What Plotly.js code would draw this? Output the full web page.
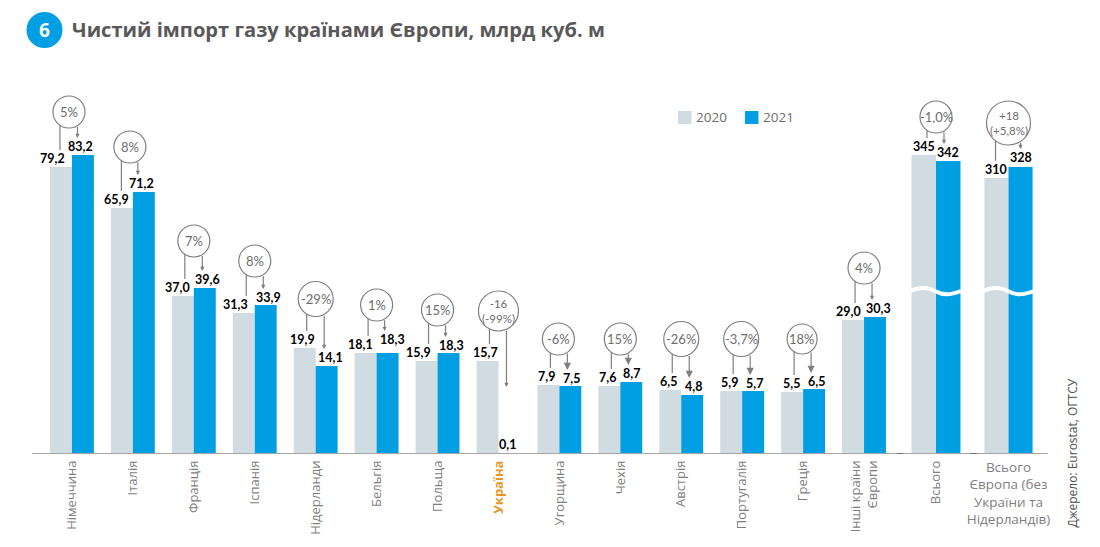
<!DOCTYPE html>
<html><head><meta charset="utf-8">
<script src="https://cdn.plot.ly/plotly-3.0.1.min.js"></script>
<style>html,body{margin:0;padding:0;background:#fff}#c{width:1100px;height:547px}</style>
</head><body><div id="c"></div>
<script>
const countries = ["Німеччина","Італія","Франція","Іспанія","Нідерланди","Бельгія","Польща","Україна","Угорщина","Чехія","Австрія","Португалія","Греція","Інші країни<br>Європи"];
const totalA = "Всього";
const totalB = "Всього<br>Європа (без<br>України та<br>Нідерландів)";
// Printed values (the source chart's bars are not drawn to a common scale with these)
const labels2020 = ["79,2","65,9","37,0","31,3","19,9","18,1","15,9","15,7","7,9","7,6","6,5","5,9","5,5","29,0","345","310"];
const labels2021 = ["83,2","71,2","39,6","33,9","14,1","18,3","18,3","0,1","7,5","8,7","4,8","5,7","6,5","30,3","342","328"];
// Bar heights as actually drawn in the source picture
const height2020 = [287,246,158,141,106,101,93,93,69,68,64,63,62,134,299,276];
const height2021 = [299,262,166,149,88,101,101,0.4,68,72,59,63,65,137,293,287];
const changes = ["5%","8%","7%","8%","-29%","1%","15%","-16<br>(-99%)","-6%","15%","-26%","-3,7%","18%","4%","-1,0%","+18<br>(+5,8%)"];

const GREY="#D0DBE2", BLUE="#009FE3", TXT="#6E6E6E", LINE="#7F7F7F";
const H=547, W=1100, BASE=454, TOP=60;
const px=x=>x/W, py=y=>1-y/H;

// callout layout: bubble height above the baseline, radius, offsets, label shifts
const bubbleY=[342,307,213,193,155,149,144,143,115,115,115,115,115,186,337,331];
const bubbleR=[16,16,16,16,17.5,16,16,20,16,16,17.5,17.5,15,16,16,22];
const bubbleDx=[-3,-3,0,0,0,0,0,0,-1,0,0,-1,-1,0,0,0];
const lineL=[-12,-11.5,-9,-8.5,-9,-8.5,-9,-9,-9,-9,-9,-9,-9,-9,-9,-13];
const lineR=[5.5,5,8.5,8.5,8.5,8,8,8,8,8,8,8,8,8,8,12];
const bigHead=[0,0,0,0,0,0,0,0,1,1,1,1,1,0,0,0];
const shift2020=[-8,-5,-5,-8,-2,-5,-8,-2,-2,-2,-2,-2,-1,-5,0,0];
const shift2021=[-2,-2,3,3,4,5,3,-2,1,0,1,1,2,3,0,0];
const gap2021=[9,9,9,8,9,14,8,9,8,9,9,8,8,9,9,10];

const allCats=[...countries,totalA,totalB];
const axisOf=i=>i<14?"x":(i===14?"x2":"x3");

function mk(name,color,hts,ax,cats,idx,w,off){
  return {type:"bar",name,x:cats,y:idx.map(i=>hts[i]),xaxis:ax,yaxis:"y",width:w,offset:off,
    marker:{color,line:{width:0}},showlegend:false,hoverinfo:"skip"};
}
const idxA=countries.map((_,i)=>i);
const data=[
  mk("2020",GREY,height2020,"x",countries,idxA,0.36,-0.36),
  mk("2021",BLUE,height2021,"x",countries,idxA,0.36,0),
  mk("2020",GREY,height2020,"x2",[totalA],[14],0.34,-0.34),
  mk("2021",BLUE,height2021,"x2",[totalA],[14],0.34,0),
  mk("2020",GREY,height2020,"x3",[totalB],[15],0.33,-0.33),
  mk("2021",BLUE,height2021,"x3",[totalB],[15],0.33,0)
];

const shapes=[], ann=[];
const note=(x,y,text,font,extra)=>ann.push({xref:"paper",yref:"paper",x:px(x),y:py(y),xanchor:"center",yanchor:"middle",text,showarrow:false,font,...extra});
// baseline and the two small dark marks on it
shapes.push({type:"line",xref:"paper",yref:"y",x0:px(32),x1:px(1048),y0:0,y1:0,line:{color:"#A6A6A6",width:2}});
[[897,903],[970,977]].forEach(([a,b])=>shapes.push({type:"line",xref:"paper",yref:"y",x0:px(a),x1:px(b),y0:0,y1:0,line:{color:"#707070",width:2}}));
// header bubble
shapes.push({type:"circle",xref:"paper",yref:"paper",x0:px(26.5),x1:px(62.5),y0:py(48),y1:py(12),fillcolor:BLUE,line:{width:0}});
note(44.5,30,"<b>6</b>",{family:"Open Sans",size:19,color:"#fff"});

allCats.forEach((c,i)=>{
  const ax=axisOf(i), bw=i<14?22:24.5;
  const t20=height2020[i], t21=height2021[i];
  const lab=(txt,y,sh)=>ann.push({xref:ax,yref:"y",x:c,y,xshift:sh,xanchor:"center",yanchor:"middle",text:"<b>"+txt+"</b>",showarrow:false,
    font:{family:"Lato",size:12.5,color:"#000"}});
  lab(labels2020[i],t20+9,shift2020[i]-bw/2);
  lab(labels2021[i],t21+gap2021[i],shift2021[i]+bw/2);
  // bubble
  const r=bubbleR[i], cy=bubbleY[i], dx=bubbleDx[i];
  shapes.push({type:"circle",xref:ax,yref:"y",xsizemode:"pixel",ysizemode:"pixel",xanchor:c,yanchor:cy,
    x0:dx-r,x1:dx+r,y0:-r,y1:r,fillcolor:"#fff",line:{color:LINE,width:1.2}});
  ann.push({xref:ax,yref:"y",x:c,y:cy,xshift:dx,xanchor:"center",yanchor:"middle",text:changes[i],showarrow:false,
    font:{family:"Lato",size:(i===7||i===15)?11.5:13,color:TXT}});
  // connectors
  const dl=lineL[i], dr=lineR[i];
  const edge=d=>cy-Math.sqrt(Math.max(r*r-(d-dx)*(d-dx),0));
  shapes.push({type:"line",xref:ax,yref:"y",xsizemode:"pixel",xanchor:c,x0:dl,x1:dl,y0:edge(dl),y1:t20+17,line:{color:LINE,width:1.2}});
  const end=i===7?67:t21+gap2021[i]+8, yr=edge(dr);
  ann.push({xref:ax,yref:"y",x:c,y:end,xshift:dr,ax:0,ay:-(yr-end),axref:"pixel",ayref:"pixel",text:"",showarrow:true,
    arrowhead:2,arrowsize:bigHead[i]?1.2:0.7,arrowwidth:1.2,arrowcolor:LINE});
});

// axis breaks on the two total groups
[0,73].forEach(d=>{
  const p=(x,y)=>px(x+d)+" "+py(y);
  shapes.push({type:"path",xref:"paper",yref:"paper",
    path:`M ${p(910,291)} C ${p(920,286)} ${p(930,288)} ${p(936,291.5)} S ${p(950,295.5)} ${p(961,291)}`,
    line:{color:"#fff",width:4},fillcolor:"rgba(0,0,0,0)"});
});
// legend
[[678,"2020",GREY,711.5],[745,"2021",BLUE,778]].forEach(([x,t,col,tx])=>{
  shapes.push({type:"rect",xref:"paper",yref:"paper",x0:px(x),x1:px(x+13.5),y0:py(124),y1:py(111),fillcolor:col,line:{width:0}});
  note(tx,117.5,t,{family:"Open Sans",size:13.5,color:"#6E6E6E"});
});
// source
note(1072,453.5,"Джерело: Eurostat, ОГТСУ",{family:"Open Sans",size:12,color:"#505050"},{textangle:-90});

const tick={family:"Open Sans",size:13,color:"#7F7F7F"};
const xbase={type:"category",showline:false,showgrid:false,zeroline:false,ticks:"",fixedrange:true,anchor:"y",tickfont:tick,ticklabelstandoff:3};
const layout={
  width:W,height:H,margin:{l:0,r:0,t:0,b:0},paper_bgcolor:"#fff",plot_bgcolor:"#fff",showlegend:false,
  title:{text:"<b>Чистий імпорт газу країнами Європи, млрд куб. м</b>",x:px(72),xanchor:"left",y:py(30),yanchor:"middle",
    font:{family:"Open Sans",size:20.1,color:"#595959"}},
  barmode:"overlay",
  xaxis:{...xbase,domain:[px(41.5),px(894.5)],range:[-0.5,13.5],tickangle:-90,categoryorder:"array",categoryarray:countries,
    tickmode:"array",tickvals:countries,
    ticktext:countries.map(c=>c==="Україна"?'<span style="color:#E8971E"><b>Україна</b></span>':c)},
  xaxis2:{...xbase,domain:[px(900),px(972)],range:[-0.5,0.5],tickangle:-90},
  xaxis3:{...xbase,domain:[px(972),px(1045)],range:[-0.5,0.5],tickangle:0,tickfont:{...tick,size:13.5}},
  yaxis:{domain:[py(BASE),py(TOP)],range:[0,BASE-TOP],visible:false,fixedrange:true},
  shapes,annotations:ann
};
Plotly.newPlot("c",data,layout,{displayModeBar:false,staticPlot:true});
</script></body></html>
